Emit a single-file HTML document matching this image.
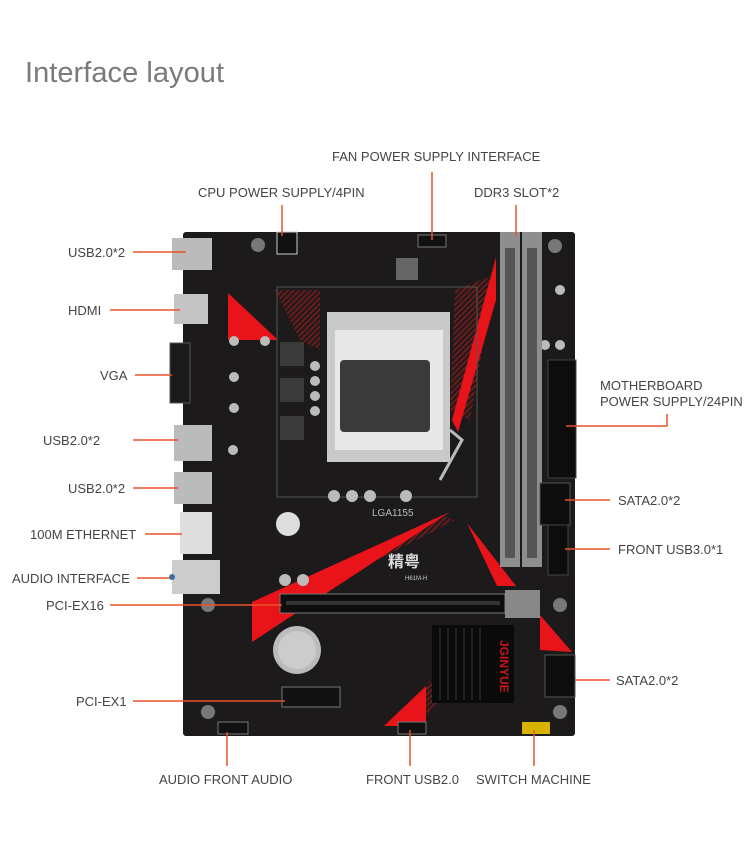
<!DOCTYPE html>
<html><head><meta charset="utf-8"><style>
html,body{margin:0;padding:0;background:#fff}
svg{display:block}
text{font-family:"Liberation Sans",sans-serif;fill:#444}
</style></head><body>
<svg width="750" height="846" viewBox="0 0 750 846" xmlns="http://www.w3.org/2000/svg">
<text x="25" y="82" font-size="29" fill="#7a7a7a" style="fill:#7a7a7a" textLength="199">Interface layout</text>

<!-- board -->
<rect x="183" y="232" width="392" height="504" rx="3" fill="#1d1a1b"/>
<!-- hatched dark-red areas -->
<defs>
<pattern id="h" width="4" height="4" patternUnits="userSpaceOnUse" patternTransform="rotate(45)">
<rect width="2" height="4" fill="#6a1c1c"/></pattern>
</defs>
<polygon points="275,290 320,290 320,350 300,340" fill="url(#h)"/>
<polygon points="455,290 495,275 470,420 450,410" fill="url(#h)"/>
<polygon points="250,615 440,515 455,520 300,600" fill="url(#h)"/>
<polygon points="400,720 430,680 440,700 420,725" fill="url(#h)"/>
<!-- red shapes -->
<polygon points="228,293 278,340 228,340" fill="#e8141a"/>
<polygon points="496,257 496,300 458,432 452,420" fill="#e8141a"/>
<polygon points="252,642 252,602 450,512" fill="#e8141a"/>
<polygon points="467,523 516,586 497,586" fill="#e8141a"/>
<polygon points="384,726 426,686 426,726" fill="#e8141a"/>
<polygon points="540,615 572,652 540,650" fill="#e8141a"/>
<!-- socket area outline -->
<rect x="277" y="287" width="200" height="210" fill="none" stroke="#555" stroke-width="1"/>
<!-- CPU socket -->
<rect x="327" y="312" width="123" height="150" fill="#c9c9c9"/>
<rect x="335" y="330" width="108" height="120" fill="#e8e8e8"/>
<rect x="340" y="360" width="90" height="72" rx="4" fill="#3a3a3a"/>
<path d="M450,430 L462,440 L440,480" stroke="#bbb" stroke-width="3" fill="none"/>
<text x="372" y="516" font-size="10" style="fill:#bbb">LGA1155</text>
<!-- VRM chokes -->
<rect x="280" y="342" width="24" height="24" fill="#3a3a3a"/>
<rect x="280" y="378" width="24" height="24" fill="#3a3a3a"/>
<rect x="280" y="416" width="24" height="24" fill="#3a3a3a"/>
<g fill="#bbb"><circle cx="315" cy="366" r="5"/><circle cx="315" cy="381" r="5"/><circle cx="315" cy="396" r="5"/><circle cx="315" cy="411" r="5"/>
<circle cx="334" cy="496" r="6"/><circle cx="352" cy="496" r="6"/><circle cx="370" cy="496" r="6"/><circle cx="406" cy="496" r="6"/>
<circle cx="285" cy="580" r="6"/><circle cx="303" cy="580" r="6"/><circle cx="265" cy="341" r="5"/><circle cx="234" cy="341" r="5"/><circle cx="234" cy="377" r="5"/><circle cx="234" cy="408" r="5"/>
<circle cx="233" cy="450" r="5"/><circle cx="545" cy="345" r="5"/><circle cx="560" cy="345" r="5"/><circle cx="560" cy="290" r="5"/></g>
<circle cx="288" cy="524" r="12" fill="#ddd"/>
<!-- top connectors -->
<rect x="277" y="232" width="20" height="22" fill="#111" stroke="#ccc"/>
<rect x="418" y="235" width="28" height="12" fill="#111" stroke="#777"/>
<rect x="396" y="258" width="22" height="22" fill="#666"/>
<!-- DIMM slots -->
<rect x="500" y="232" width="20" height="335" fill="#8e8e8e"/>
<rect x="505" y="248" width="10" height="310" fill="#555"/>
<rect x="522" y="232" width="20" height="335" fill="#8e8e8e"/>
<rect x="527" y="248" width="10" height="310" fill="#555"/>
<!-- 24 pin -->
<rect x="548" y="360" width="28" height="118" fill="#0d0d0d" stroke="#444"/>
<!-- SATA and USB3 headers -->
<rect x="540" y="483" width="30" height="42" fill="#0d0d0d" stroke="#555"/>
<rect x="548" y="525" width="20" height="50" fill="#0d0d0d" stroke="#444"/>
<rect x="545" y="655" width="30" height="42" fill="#0d0d0d" stroke="#555"/>
<!-- PCIe x16 -->
<rect x="280" y="594" width="225" height="19" fill="#0e0e0e" stroke="#777"/>
<rect x="286" y="601" width="214" height="4" fill="#333"/>
<rect x="505" y="590" width="35" height="28" fill="#888"/>
<!-- PCIe x1 -->
<rect x="282" y="687" width="58" height="20" fill="#111" stroke="#777"/>
<!-- battery -->
<circle cx="297" cy="650" r="24" fill="#bbb"/>
<circle cx="297" cy="650" r="19" fill="#ccc"/>
<!-- chipset heatsink -->
<rect x="432" y="625" width="82" height="78" fill="#0a0a0a"/>
<g stroke="#2a2a2a" stroke-width="1.5">
<line x1="440" y1="628" x2="440" y2="700"/><line x1="448" y1="628" x2="448" y2="700"/><line x1="456" y1="628" x2="456" y2="700"/><line x1="464" y1="628" x2="464" y2="700"/><line x1="472" y1="628" x2="472" y2="700"/><line x1="480" y1="628" x2="480" y2="700"/></g>
<text x="0" y="0" font-size="12" font-weight="bold" style="fill:#c8151a" transform="translate(500,640) rotate(90)">JGINYUE</text>
<text x="388" y="567" font-size="16" font-weight="bold" style="fill:#ddd;font-family:'Liberation Sans','Noto Sans CJK SC',sans-serif">精粤</text>
<text x="405" y="580" font-size="6" style="fill:#ccc">H61M-H</text>
<!-- rear I/O -->
<rect x="172" y="238" width="40" height="32" fill="#bbb"/>
<rect x="174" y="294" width="34" height="30" fill="#c4c4c4"/>
<rect x="170" y="343" width="20" height="60" fill="#1a1a1a" stroke="#555"/>
<rect x="174" y="425" width="38" height="36" fill="#bbb"/>
<rect x="174" y="472" width="38" height="32" fill="#bbb"/>
<rect x="180" y="512" width="32" height="42" fill="#ddd"/>
<rect x="172" y="560" width="48" height="34" fill="#ccc"/>
<circle cx="172" cy="577" r="3" fill="#3a6fa8"/>
<!-- mounting holes -->
<g fill="#777"><circle cx="258" cy="245" r="7"/><circle cx="555" cy="246" r="7"/><circle cx="208" cy="605" r="7"/><circle cx="560" cy="605" r="7"/><circle cx="208" cy="712" r="7"/><circle cx="560" cy="712" r="7"/></g>
<!-- bottom headers -->
<rect x="218" y="722" width="30" height="12" fill="#111" stroke="#777"/>
<rect x="398" y="722" width="28" height="12" fill="#111" stroke="#777"/>
<rect x="522" y="722" width="28" height="12" fill="#d6b400"/>

<!-- leader lines -->
<g stroke="#e8532a" stroke-width="1.5" fill="none">
<line x1="432" y1="172" x2="432" y2="240"/>
<line x1="282" y1="205" x2="282" y2="236"/>
<line x1="516" y1="205" x2="516" y2="236"/>
<line x1="133" y1="252" x2="186" y2="252"/>
<line x1="110" y1="310" x2="180" y2="310"/>
<line x1="135" y1="375" x2="172" y2="375"/>
<line x1="133" y1="440" x2="178" y2="440"/>
<line x1="133" y1="488" x2="178" y2="488"/>
<line x1="145" y1="534" x2="182" y2="534"/>
<line x1="137" y1="578" x2="170" y2="578"/>
<line x1="110" y1="605" x2="282" y2="605"/>
<line x1="133" y1="701" x2="285" y2="701"/>
<polyline points="566,426 667,426 667,414"/>
<line x1="565" y1="500" x2="610" y2="500"/>
<line x1="565" y1="549" x2="610" y2="549"/>
<line x1="575" y1="680" x2="610" y2="680"/>
<line x1="227" y1="732" x2="227" y2="766"/>
<line x1="410" y1="730" x2="410" y2="766"/>
<line x1="534" y1="730" x2="534" y2="766"/>
</g>

<!-- labels -->
<g font-size="13">
<text x="332" y="161">FAN POWER SUPPLY INTERFACE</text>
<text x="198" y="197">CPU POWER SUPPLY/4PIN</text>
<text x="474" y="197">DDR3 SLOT*2</text>
<text x="68" y="257">USB2.0*2</text>
<text x="68" y="315">HDMI</text>
<text x="100" y="380">VGA</text>
<text x="43" y="445">USB2.0*2</text>
<text x="68" y="493">USB2.0*2</text>
<text x="30" y="539">100M ETHERNET</text>
<text x="12" y="583">AUDIO INTERFACE</text>
<text x="46" y="610">PCI-EX16</text>
<text x="76" y="706">PCI-EX1</text>
<text x="600" y="390">MOTHERBOARD</text>
<text x="600" y="406">POWER SUPPLY/24PIN</text>
<text x="618" y="505">SATA2.0*2</text>
<text x="618" y="554">FRONT USB3.0*1</text>
<text x="616" y="685">SATA2.0*2</text>
<text x="159" y="784">AUDIO FRONT AUDIO</text>
<text x="366" y="784">FRONT USB2.0</text>
<text x="476" y="784">SWITCH MACHINE</text>
</g>
</svg>
</body></html>
